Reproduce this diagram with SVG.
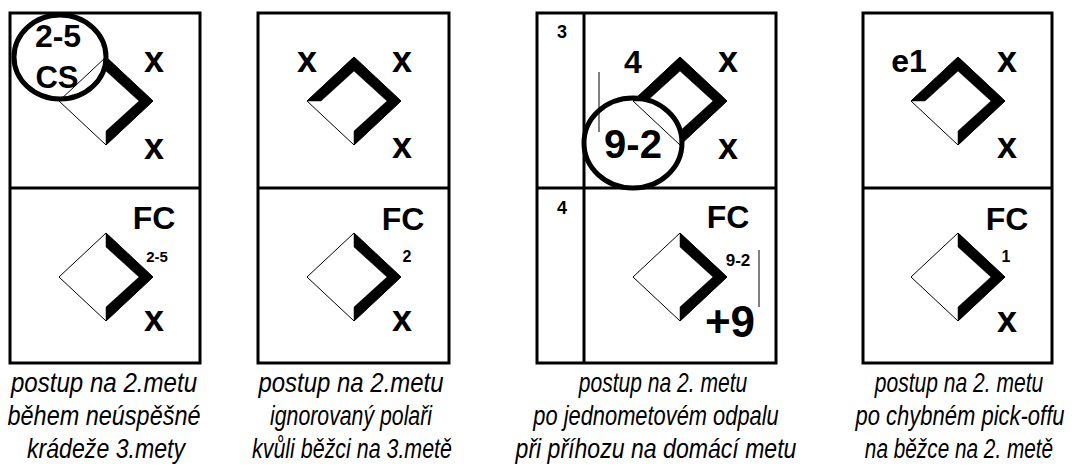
<svg xmlns="http://www.w3.org/2000/svg" width="1081" height="470" viewBox="0 0 1081 470">
<style>
.box{fill:none;stroke:#000;stroke-width:3}
.div{stroke:#000;stroke-width:3}
.dia{fill:#fff;stroke:#000;stroke-width:1}
.bar{fill:#000;stroke:#000;stroke-width:0.5}
.ring{fill:none;stroke:#000;stroke-width:5}
.thin{stroke:#000;stroke-width:1}
.lbl{font-family:'Liberation Sans',Arial,sans-serif;font-weight:bold;fill:#000;text-anchor:middle}
.cap{font-family:'Liberation Sans',Arial,sans-serif;font-style:italic;font-size:27px;fill:#000;text-anchor:middle}
</style>
<rect width="1081" height="470" fill="#fff"/>

<g id="panel1">
<rect class="box" x="10" y="13" width="190" height="350"/>
<line class="div" x1="10" y1="188" x2="200" y2="188"/>
<polygon class="dia" points="59,101 106,57 153,101 106,145"/>
<polygon class="bar" points="106,57 153,101 106,145 106,131 139,101 106,71"/>
<ellipse class="ring" cx="60" cy="57" rx="46" ry="42"/>
<text class="lbl" x="58" y="47" font-size="32">2-5</text>
<text class="lbl" x="57" y="88" font-size="31">CS</text>
<text class="lbl" x="154" y="72" font-size="36">x</text>
<text class="lbl" x="154" y="159" font-size="36">x</text>
<polygon class="dia" points="59,277 106,233 153,277 106,321"/>
<polygon class="bar" points="106,233 153,277 106,321 106,307 139,277 106,247"/>
<text class="lbl" x="154" y="229" font-size="32">FC</text>
<text class="lbl" x="157" y="262" font-size="15">2-5</text>
<text class="lbl" x="154" y="331" font-size="36">x</text>
<text class="cap" transform="translate(104,392) scale(0.892,1)">postup na 2.metu</text>
<text class="cap" transform="translate(104,425) scale(0.869,1)">během neúspěšné</text>
<text class="cap" transform="translate(106,458) scale(0.856,1)">krádeže 3.mety</text>
</g>

<g id="panel2">
<rect class="box" x="258" y="13" width="191" height="350"/>
<line class="div" x1="258" y1="188" x2="449" y2="188"/>
<polygon class="dia" points="307,101 354,57 401,101 354,145"/>
<polygon class="bar" points="307,101 354,57 401,101 354,145 354,131 387,101 354,71 321,101"/>
<text class="lbl" x="307" y="72" font-size="36">x</text>
<text class="lbl" x="402" y="72" font-size="36">x</text>
<text class="lbl" x="402" y="158" font-size="36">x</text>
<polygon class="dia" points="307,277 354,233 401,277 354,321"/>
<polygon class="bar" points="354,233 401,277 354,321 354,307 387,277 354,247"/>
<text class="lbl" x="403" y="230" font-size="32">FC</text>
<text class="lbl" x="407" y="262" font-size="16">2</text>
<text class="lbl" x="402" y="331" font-size="36">x</text>
<text class="cap" transform="translate(351,392) scale(0.887,1)">postup na 2.metu</text>
<text class="cap" transform="translate(351,425) scale(0.788,1)">ignorovaný polaři</text>
<text class="cap" transform="translate(352,458) scale(0.793,1)">kvůli běžci na 3.metě</text>
</g>

<g id="panel3">
<rect class="box" x="537" y="13" width="239" height="350"/>
<line class="div" x1="537" y1="188" x2="776" y2="188"/>
<line class="div" x1="584" y1="13" x2="584" y2="363"/>
<text class="lbl" x="562" y="38" font-size="18">3</text>
<text class="lbl" x="562" y="214" font-size="18">4</text>
<line class="thin" x1="599" y1="72" x2="599" y2="132" stroke="#555"/>
<polygon class="dia" points="633,101 680,57 727,101 680,145"/>
<polygon class="bar" points="633,101 680,57 727,101 680,145 680,131 713,101 680,71 647,101"/>
<ellipse class="ring" cx="633" cy="143" rx="49" ry="45"/>
<text class="lbl" x="633" y="73" font-size="32">4</text>
<text class="lbl" x="728" y="72" font-size="36">x</text>
<text class="lbl" x="728" y="159" font-size="36">x</text>
<text class="lbl" x="633" y="158" font-size="40">9-2</text>
<polygon class="dia" points="633,277 680,233 727,277 680,321"/>
<polygon class="bar" points="680,233 727,277 680,321 680,307 713,277 680,247"/>
<text class="lbl" x="728" y="228" font-size="32">FC</text>
<text class="lbl" x="738" y="266" font-size="17">9-2</text>
<line class="thin" x1="759" y1="250" x2="759" y2="307" stroke="#333"/>
<text class="lbl" x="730" y="337" font-size="44">+9</text>
<text class="cap" transform="translate(663,392) scale(0.78,1)">postup na 2. metu</text>
<text class="cap" transform="translate(656,425) scale(0.81,1)">po jednometovém odpalu</text>
<text class="cap" transform="translate(656,458) scale(0.855,1)">při příhozu na domácí metu</text>
</g>

<g id="panel4">
<rect class="box" x="863" y="13" width="189" height="350"/>
<line class="div" x1="863" y1="188" x2="1052" y2="188"/>
<polygon class="dia" points="911,101 958,57 1005,101 958,145"/>
<polygon class="bar" points="911,101 958,57 1005,101 958,145 958,131 991,101 958,71 925,101"/>
<text class="lbl" x="909" y="72" font-size="32">e1</text>
<text class="lbl" x="1007" y="72" font-size="36">x</text>
<text class="lbl" x="1007" y="158" font-size="36">x</text>
<polygon class="dia" points="911,277 958,233 1005,277 958,321"/>
<polygon class="bar" points="958,233 1005,277 958,321 958,307 991,277 958,247"/>
<text class="lbl" x="1007" y="230" font-size="32">FC</text>
<text class="lbl" x="1006" y="262" font-size="16">1</text>
<text class="lbl" x="1007" y="332" font-size="36">x</text>
<text class="cap" transform="translate(959,392) scale(0.78,1)">postup na 2. metu</text>
<text class="cap" transform="translate(960,425) scale(0.815,1)">po chybném pick-offu</text>
<text class="cap" transform="translate(959,458) scale(0.77,1)">na běžce na 2. metě</text>
</g>
</svg>
